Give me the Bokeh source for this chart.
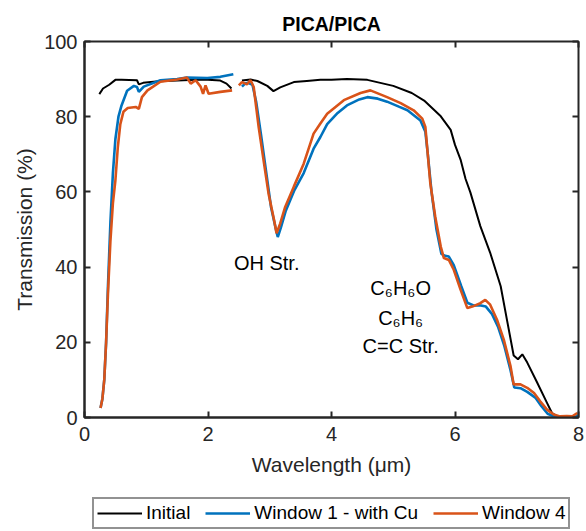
from bokeh.plotting import figure
from bokeh.layouts import column
from bokeh.models import LinearAxis, Range1d, Legend, LegendItem, Label, FixedTicker
from bokeh.embed import file_html
from bokeh.resources import INLINE

nan = float("nan")

# Initial
x_init = [0.24, 0.30, 0.40, 0.50, 0.60, 0.85, 0.88, 0.95, 1.2, 1.5, 1.8, 2.0, 2.2, 2.3, 2.38, nan,
          2.55, 2.69, 2.8, 2.96, 3.06, 3.17, 3.39, 3.6, 3.82, 4.0, 4.25, 4.58, 5.0, 5.3, 5.5, 5.77,
          5.93, 6.0, 6.09, 6.17, 6.25, 6.41, 6.57, 6.74, 6.84, 6.95, 7.02, 7.09, 7.17, 7.33, 7.49,
          7.57, 7.65, 7.72]
y_init = [86.0, 87.5, 88.5, 89.8, 89.8, 89.7, 88.6, 89.0, 89.4, 89.6, 89.8, 89.8, 89.6, 88.8, 87.5, nan,
          89.6, 89.9, 89.5, 88.2, 86.8, 87.8, 89.2, 89.5, 89.8, 89.8, 90.0, 89.8, 88.2, 86.3, 84.3, 80.1,
          76.5, 72.5, 68.6, 63.5, 59.8, 50.9, 43.8, 34.9, 26.1, 16.5, 15.5, 16.8, 14.6, 9.3, 3.9,
          1.2, 0.4, 0.2]

# Window 1 - with Cu
x_w1 = [0.26, 0.29, 0.32, 0.35, 0.38, 0.42, 0.46, 0.50, 0.55, 0.60, 0.69, 0.80, 0.85, 0.88, 0.96,
        1.23, 1.5, 1.66, 1.99, 2.2, 2.41, nan,
        2.55, 2.6, 2.65, 2.72, 2.78, 2.86, 2.94, 3.02, 3.1, 3.13, 3.18, 3.26, 3.4, 3.55, 3.71, 3.82,
        3.93, 4.1, 4.25, 4.45, 4.58, 4.75, 4.9, 5.1, 5.23, 5.44, 5.52, 5.56, 5.62, 5.7, 5.78, 5.84,
        5.9, 5.98, 6.1, 6.2, 6.3, 6.42, 6.5, 6.6, 6.7, 6.8, 6.9, 6.96, 7.06, 7.17, 7.3, 7.4, 7.5,
        7.6, 7.7, 7.8, 7.9, 8.0]
y_w1 = [2.5, 5, 10, 20, 35, 52, 65, 74, 80, 83, 86.9, 88.2, 87.9, 86.6, 88.0,
        89.7, 90.0, 90.4, 90.3, 90.6, 91.3, nan,
        88.0, 88.8, 89.0, 88.5, 84.0, 75.0, 65.5, 56.0, 50.0, 48.0, 50.5, 55.0, 60.5, 65.0, 71.5, 74.6,
        78.0, 81.0, 83.0, 84.6, 85.2, 84.8, 84.0, 82.6, 81.7, 79.0, 76.0, 70.0, 60.0, 50.0, 43.5, 43.0,
        42.8, 40.5, 35.0, 30.5, 29.8, 29.8, 29.5, 27.5, 24.0, 19.0, 12.5, 8.0, 7.8, 6.8, 5.3, 3.0, 1.0,
        0.3, 0.1, 0.2, 0.0, 0.5]

# Window 4
x_w4 = [0.26, 0.29, 0.32, 0.35, 0.38, 0.42, 0.46, 0.50, 0.54, 0.58, 0.63, 0.70, 0.83, 0.88, 0.93,
        1.02, 1.23, 1.5, 1.66, 1.72, 1.80, 1.88, 1.92, 1.96, 2.01, 2.2, 2.39, nan,
        2.5, 2.55, 2.63, 2.69, 2.74, 2.82, 2.90, 2.98, 3.07, 3.11, 3.17, 3.25, 3.39, 3.55, 3.71, 3.82,
        3.93, 4.2, 4.47, 4.63, 4.9, 5.12, 5.33, 5.47, 5.52, 5.60, 5.68, 5.77, 5.82, 5.90, 5.98, 6.09,
        6.20, 6.28, 6.41, 6.49, 6.57, 6.68, 6.79, 6.90, 6.95, 7.06, 7.17, 7.28, 7.38, 7.49, 7.6, 7.7,
        7.81, 7.9, 7.98]
y_w4 = [2.5, 5, 10, 20, 33, 47, 57, 63, 72, 78, 81.3, 82.3, 82.6, 82.1, 85.2,
        87.0, 89.3, 89.9, 90.4, 88.8, 89.7, 88.0, 86.1, 88.3, 86.1, 86.6, 87.0, nan,
        88.3, 89.2, 88.6, 89.7, 87.9, 77.3, 68.4, 59.6, 52.5, 49.0, 51.6, 56.0, 61.4, 67.5, 75.5, 78.2,
        80.8, 84.4, 86.3, 87.0, 85.2, 83.6, 81.7, 79.5, 77.3, 62.3, 53.4, 45.4, 42.4, 41.9, 39.3, 34.0,
        29.1, 29.5, 30.4, 31.3, 30.0, 26.0, 20.7, 13.6, 8.8, 8.8, 7.9, 6.5, 4.3, 2.1, 0.8, 0.3,
        0.4, 0.3, 1.2]

x_ticks = [0, 2, 4, 6, 8]
y_ticks = [0, 20, 40, 60, 80, 100]
series_names = ["Initial", "Window 1 - with Cu", "Window 4"]
series_colors = ["#000000", "#0072BD", "#D95319"]
series_widths = [2, 2.6, 2.6]

FONT = "Liberation Sans"
AX = "#262626"

p = figure(width=586, height=489, output_backend="svg", toolbar_location=None,
           x_range=Range1d(0, 8), y_range=Range1d(0, 100),
           min_border_left=84, min_border_right=8, min_border_top=41, min_border_bottom=72,
           title="PICA/PICA")
p.title.align = "center"
p.title.vertical_align = "top"
p.title.text_font = FONT
p.title.text_font_size = "19.5px"
p.title.text_font_style = "bold"
p.title.text_color = "#000000"

p.xgrid.visible = False
p.ygrid.visible = False
p.outline_line_color = AX
p.outline_line_width = 2
p.outline_line_alpha = 1.0

for ax in p.xaxis:
    ax.ticker = FixedTicker(ticks=x_ticks)
for ax in p.yaxis:
    ax.ticker = FixedTicker(ticks=y_ticks)

for ax in list(p.xaxis) + list(p.yaxis):
    ax.major_tick_in = 6
    ax.major_tick_out = 0
    ax.minor_tick_line_color = None
    ax.major_tick_line_color = AX
    ax.major_tick_line_width = 2
    ax.axis_line_color = AX
    ax.axis_line_width = 2
    ax.major_label_text_font = FONT
    ax.major_label_text_font_size = "20px"
    ax.major_label_text_color = AX
    ax.axis_label_text_font = FONT
    ax.axis_label_text_font_size = "21px"
    ax.axis_label_text_font_style = "normal"
    ax.axis_label_text_color = AX

p.xaxis.axis_label = "Wavelength (\u03bcm)"
p.yaxis.axis_label = "Transmission (%)"
p.xaxis.major_label_standoff = 9
p.xaxis.axis_label_standoff = 9
p.yaxis.major_label_standoff = 7

for loc, tk in (("right", y_ticks), ("above", x_ticks)):
    a = LinearAxis(ticker=FixedTicker(ticks=tk), major_label_text_font_size="1px",
                   major_label_text_color=None,
                   major_tick_in=6, major_tick_out=0, minor_tick_line_color=None,
                   major_tick_line_color=AX, major_tick_line_width=2,
                   axis_line_color=None, major_label_standoff=0)
    p.add_layout(a, loc)

series = ((x_init, y_init), (x_w1, y_w1), (x_w4, y_w4))
for (xs, ys), c, w in zip(series, series_colors, series_widths):
    p.line(xs, ys, line_color=c, line_width=w)

for txt, xx, yy in (("OH Str.", 2.95, 41.0),
                    ("C\u2086H\u2086O", 5.12, 34.5),
                    ("C\u2086H\u2086", 5.12, 26.5),
                    ("C=C Str.", 5.12, 19.1)):
    p.add_layout(Label(x=xx, y=yy, text=txt, text_align="center", text_baseline="middle",
                       text_font=FONT, text_font_size="20px", text_color="#000000"))

# legend strip below the axes (same series, kept off-screen, only their legend shows)
lg = figure(width=586, height=41, output_backend="svg", toolbar_location=None,
            x_axis_location=None, y_axis_location=None,
            x_range=Range1d(100, 101), y_range=Range1d(100, 101),
            min_border_left=0, min_border_right=0, min_border_top=0, min_border_bottom=0)
lg.grid.visible = False
lg.outline_line_color = None
lrs = []
for (xs, ys), c, w in zip(series, series_colors, series_widths):
    lrs.append(lg.line(xs, ys, line_color=c, line_width=w))

legend = Legend(items=[LegendItem(label=n, renderers=[r]) for n, r in zip(series_names, lrs)],
                orientation="horizontal", location=(8, 1),
                label_text_font=FONT, label_text_font_size="19px", label_text_color="#000000",
                label_text_line_height=1.0, label_height=18,
                glyph_width=45, glyph_height=18, label_standoff=4, spacing=15, padding=3,
                border_line_color=AX, border_line_width=2, background_fill_alpha=1.0, margin=0)
lg.add_layout(legend)

open("out.html", "w").write(file_html(column(p, lg, spacing=0), INLINE))
